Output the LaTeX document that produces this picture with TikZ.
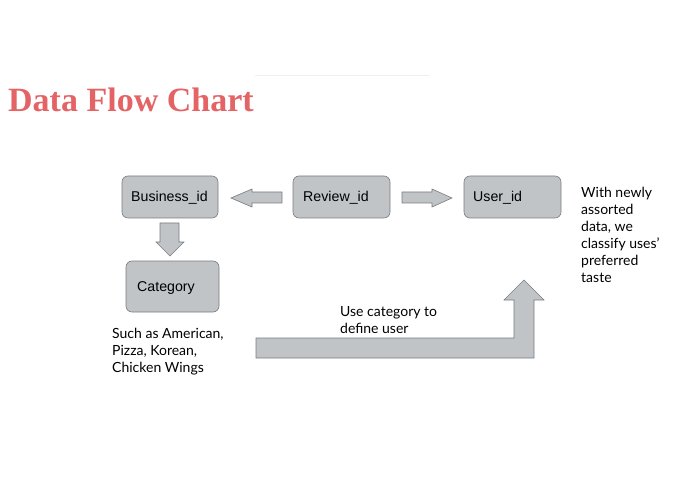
\documentclass[tikz,border=0pt]{standalone}
\usepackage{fontspec}
\setmainfont{Lato}
\newfontfamily\boxfont{Liberation Sans}
\newfontfamily\titlefont{Liberation Serif}
\definecolor{boxfill}{RGB}{192,196,199}
\definecolor{boxline}{RGB}{120,124,128}
\definecolor{titlered}{RGB}{228,100,102}
\tikzset{
  idbox/.style={draw=boxline, fill=boxfill, rounded corners=6bp, line width=0.6bp},
  idtext/.style={anchor=west, font=\boxfont\fontsize{14.2bp}{16bp}\selectfont, inner sep=0pt},
  blockarrow/.style={draw=boxline, fill=boxfill, line width=0.6bp, line join=miter},
  note/.style={anchor=north west, align=left, inner sep=0pt, font=\fontsize{14bp}{17bp}\selectfont}
}
\begin{document}
\begin{tikzpicture}[x=1bp,y=-1bp]
\useasboundingbox (0,0) rectangle (695,494);
% faint rule near title
\draw[black!6, line width=1bp] (255,76) -- (430,76);
% title
\node[anchor=base west, inner sep=0pt, text=titlered, font=\titlefont\bfseries\fontsize{34bp}{40bp}\selectfont] (title) at (8,112) {Data Flow Chart};
% boxes
\draw[idbox] (122,176) rectangle (218,218);
\node[idtext] (business) at (131,198) {Business\_id};
\draw[idbox] (293,176) rectangle (390,218);
\node[idtext] (review) at (303,198) {Review\_id};
\draw[idbox] (464,176) rectangle (561,218);
\node[idtext] (user) at (473,198) {User\_id};
\draw[idbox] (126,261) rectangle (219,312);
\node[idtext] (category) at (137,288) {Category};
% left arrow Review -> Business
\draw[blockarrow] (282,192) -- (252,192) -- (252,189) -- (231,198) -- (252,207) -- (252,203) -- (282,203) -- cycle;
% right arrow Review -> User
\draw[blockarrow] (402,192) -- (432,192) -- (432,189) -- (452,198) -- (432,207) -- (432,203) -- (402,203) -- cycle;
% down arrow Business -> Category
\draw[blockarrow] (160,223) -- (179,223) -- (179,242) -- (184,242) -- (170,256) -- (156,242) -- (160,242) -- cycle;
% bent arrow
\draw[blockarrow] (256,338) -- (514,338) -- (514,300) -- (504,300) -- (524,280) -- (544,300) -- (534,300) -- (534,358) -- (256,358) -- cycle;
% notes
\node[note] (define) at (340,306) {Use category to\\define user};
\node[note] (such) at (112,328) {Such as American,\\Pizza, Korean,\\Chicken Wings};
\node[note] (with) at (581,187) {With newly\\assorted\\data, we\\classify uses’\\preferred\\taste};
\end{tikzpicture}
\end{document}
